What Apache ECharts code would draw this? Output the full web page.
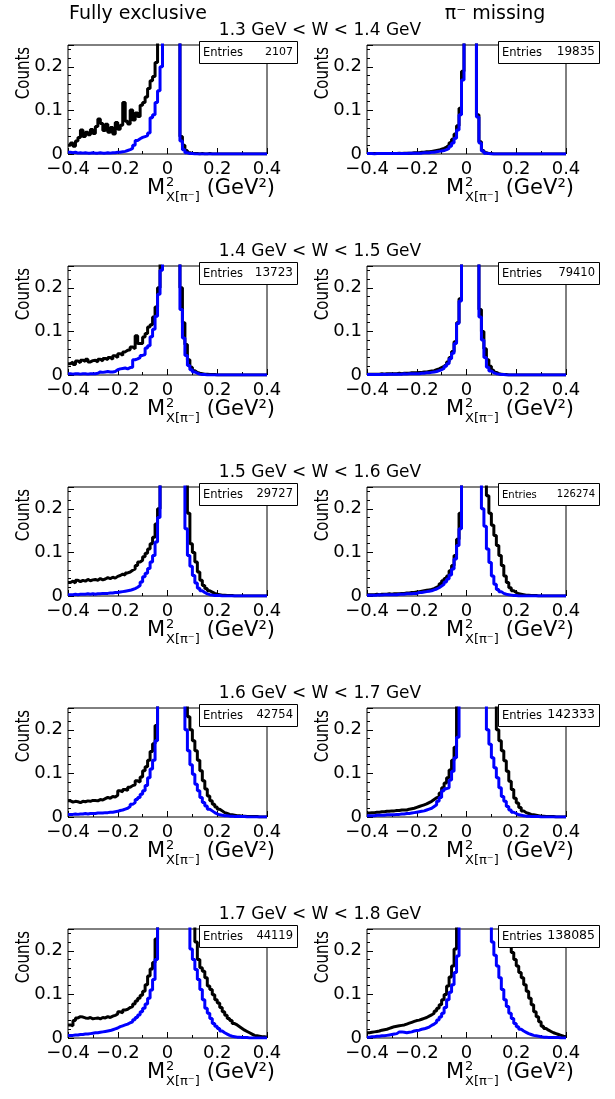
<!DOCTYPE html>
<html>
<head>
<meta charset="utf-8">
<script src="https://cdn.jsdelivr.net/npm/echarts/dist/echarts.min.js"></script>
<style>
html,body{margin:0;padding:0;background:#fff;}
#chart{width:615px;height:1099px;}
</style>
</head>
<body>
<div id="chart"></div>
<script>
// ---------------- data ----------------
// histogram binning: 80 bins of width 0.01 GeV^2 from -0.4 to 0.4
const X_MIN = -0.4, X_MAX = 0.4, BIN_W = 0.01;

const W_RANGES = ['1.3 GeV < W < 1.4 GeV','1.4 GeV < W < 1.5 GeV','1.5 GeV < W < 1.6 GeV','1.6 GeV < W < 1.7 GeV','1.7 GeV < W < 1.8 GeV'];
const COLUMN_TITLES = ['Fully exclusive', '\u03c0\u207b missing'];
const ENTRIES_FULLY_EXCLUSIVE = [2107, 13723, 29727, 42754, 44119];
const ENTRIES_PI_MISSING = [19835, 79410, 126274, 142333, 138085];

const fe13Black = [
0.020,0.025,0.018,0.030,0.038,0.055,0.040,0.050,0.044,0.056,
0.047,0.063,0.080,0.070,0.054,0.068,0.050,0.061,0.046,0.072,
0.057,0.066,0.118,0.075,0.069,0.101,0.078,0.094,0.086,0.112,
0.118,0.131,0.150,0.168,0.178,0.210,0.280,0.400,0.600,0.900,
1.100,1.200,1.100,0.900,0.500,0.040,0.020,0.008,0.003,0.001,
0.001,0.001,0,0.001,0,0,0.001,0,0,0,
0,0,0,0,0,0,0,0,0,0,
0,0,0,0,0,0,0,0,0,0];
const fe13Blue = [
0.004,0.003,0.004,0.002,0.003,0.002,0.003,0.002,0.002,0.003,
0.002,0.002,0.003,0.002,0.002,0.003,0.002,0.003,0.003,0.004,
0.004,0.005,0.006,0.008,0.010,0.013,0.020,0.031,0.035,0.038,
0.040,0.042,0.048,0.083,0.090,0.118,0.145,0.200,0.400,0.800,
1.100,1.200,1.100,0.900,0.500,0.030,0.010,0.003,0.001,0.001,
0,0,0,0,0,0,0,0,0,0,
0,0,0,0,0,0,0,0,0,0,
0,0,0,0,0,0,0,0,0,0];
const pm13Black = [
0.001,0.001,0.001,0.001,0.001,0.001,0.001,0.001,0.001,0.001,
0.001,0.001,0.002,0.001,0.002,0.002,0.002,0.002,0.003,0.003,
0.003,0.004,0.004,0.005,0.005,0.006,0.007,0.008,0.009,0.011,
0.013,0.016,0.020,0.026,0.034,0.046,0.065,0.105,0.190,0.600,
1.200,1.400,1.200,0.600,0.090,0.028,0.008,0.003,0.001,0.001,
0,0,0,0,0,0,0,0,0,0,
0,0,0,0,0,0,0,0,0,0,
0,0,0,0,0,0,0,0,0,0];
const pm13Blue = [
0.001,0.001,0,0.001,0.001,0.001,0.001,0.001,0.001,0.001,
0.001,0.001,0.001,0.001,0.001,0.001,0.002,0.002,0.002,0.002,
0.002,0.002,0.003,0.003,0.003,0.004,0.004,0.005,0.006,0.007,
0.008,0.010,0.013,0.018,0.025,0.036,0.055,0.090,0.170,0.600,
1.200,1.400,1.200,0.600,0.085,0.025,0.007,0.002,0.001,0,
0,0,0,0,0,0,0,0,0,0,
0,0,0,0,0,0,0,0,0,0,
0,0,0,0,0,0,0,0,0,0];

const fe14Black = [
0.026,0.030,0.024,0.032,0.028,0.034,0.031,0.036,0.030,0.033,
0.034,0.030,0.036,0.032,0.038,0.035,0.040,0.036,0.044,0.040,
0.049,0.045,0.053,0.057,0.058,0.064,0.060,0.090,0.072,0.072,
0.087,0.095,0.110,0.115,0.133,0.156,0.200,0.300,0.500,0.800,
1.000,1.100,1.000,0.800,0.500,0.200,0.120,0.070,0.035,0.018,
0.010,0.006,0.004,0.003,0.002,0.002,0.001,0.001,0.001,0,
0,0,0,0,0,0,0,0,0,0,
0,0,0,0,0,0,0,0,0,0];
const fe14Blue = [
0.003,0.002,0.003,0.003,0.002,0.003,0.003,0.002,0.003,0.003,
0.003,0.004,0.007,0.006,0.007,0.008,0.007,0.007,0.008,0.012,
0.014,0.015,0.016,0.014,0.017,0.018,0.035,0.037,0.040,0.045,
0.047,0.062,0.067,0.088,0.105,0.135,0.185,0.240,0.450,0.800,
1.000,1.100,1.000,0.800,0.500,0.150,0.085,0.045,0.022,0.012,
0.007,0.004,0.002,0.001,0.001,0,0,0,0,0,
0,0,0,0,0,0,0,0,0,0,
0,0,0,0,0,0,0,0,0,0];
const pm14Black = [
0.002,0.002,0.002,0.002,0.002,0.003,0.002,0.003,0.003,0.003,
0.003,0.003,0.004,0.003,0.004,0.004,0.004,0.005,0.005,0.005,
0.006,0.006,0.007,0.007,0.008,0.009,0.010,0.012,0.014,0.017,
0.020,0.024,0.030,0.040,0.054,0.076,0.120,0.175,0.350,0.700,
1.100,1.200,1.100,0.800,0.350,0.150,0.100,0.060,0.035,0.020,
0.011,0.006,0.003,0.002,0.001,0.001,0,0,0,0,
0,0,0,0,0,0,0,0,0,0,
0,0,0,0,0,0,0,0,0,0];
const pm14Blue = [
0.001,0.001,0.001,0.001,0.001,0.001,0.002,0.001,0.002,0.002,
0.002,0.002,0.002,0.002,0.003,0.002,0.003,0.003,0.003,0.003,
0.003,0.004,0.004,0.005,0.005,0.006,0.007,0.008,0.010,0.012,
0.015,0.020,0.026,0.037,0.050,0.072,0.118,0.170,0.350,0.700,
1.100,1.200,1.100,0.800,0.350,0.133,0.080,0.040,0.018,0.009,
0.005,0.003,0.002,0.001,0.001,0,0,0,0,0,
0,0,0,0,0,0,0,0,0,0,
0,0,0,0,0,0,0,0,0,0];

const fe15Black = [
0.031,0.034,0.030,0.036,0.033,0.036,0.034,0.038,0.035,0.037,
0.038,0.036,0.040,0.037,0.039,0.042,0.040,0.043,0.041,0.045,
0.047,0.050,0.048,0.053,0.055,0.059,0.062,0.070,0.078,0.082,
0.090,0.098,0.108,0.120,0.135,0.165,0.200,0.300,0.500,0.800,
1.000,1.100,1.100,1.000,0.800,0.600,0.400,0.280,0.190,0.120,
0.100,0.078,0.055,0.036,0.024,0.017,0.012,0.009,0.006,0.004,
0.003,0.002,0.002,0.001,0.001,0.001,0,0,0,0,
0,0,0,0,0,0,0,0,0,0];
const fe15Blue = [
0.003,0.003,0.004,0.003,0.004,0.004,0.004,0.005,0.004,0.005,
0.004,0.005,0.005,0.006,0.006,0.006,0.007,0.007,0.008,0.008,
0.009,0.010,0.011,0.012,0.013,0.015,0.017,0.020,0.024,0.032,
0.044,0.052,0.063,0.078,0.093,0.124,0.180,0.260,0.500,0.800,
1.000,1.100,1.100,1.000,0.800,0.500,0.280,0.154,0.093,0.068,
0.047,0.030,0.018,0.012,0.008,0.005,0.003,0.002,0.001,0.001,
0.001,0,0,0,0,0,0,0,0,0,
0,0,0,0,0,0,0,0,0,0];
const pm15Black = [
0.003,0.003,0.003,0.004,0.003,0.004,0.004,0.004,0.005,0.004,
0.005,0.005,0.005,0.006,0.006,0.007,0.007,0.008,0.008,0.009,
0.010,0.011,0.012,0.013,0.014,0.015,0.017,0.020,0.023,0.028,
0.035,0.040,0.046,0.058,0.070,0.093,0.130,0.190,0.300,0.600,
1.000,1.200,1.100,0.900,0.700,0.500,0.400,0.300,0.230,0.190,
0.162,0.139,0.116,0.093,0.070,0.046,0.031,0.019,0.012,0.008,
0.005,0.004,0.003,0.002,0.002,0.001,0.001,0.001,0,0,
0,0,0,0,0,0,0,0,0,0];
const pm15Blue = [
0.002,0.002,0.002,0.002,0.003,0.002,0.003,0.003,0.003,0.003,
0.003,0.003,0.004,0.004,0.004,0.005,0.005,0.005,0.006,0.006,
0.008,0.008,0.009,0.010,0.011,0.012,0.014,0.016,0.019,0.023,
0.027,0.032,0.039,0.048,0.062,0.085,0.116,0.154,0.260,0.600,
1.000,1.200,1.100,0.900,0.600,0.350,0.200,0.160,0.108,0.077,
0.046,0.027,0.015,0.010,0.006,0.004,0.003,0.002,0.001,0.001,
0,0,0,0,0,0,0,0,0,0,
0,0,0,0,0,0,0,0,0,0];

const fe16Black = [
0.037,0.034,0.036,0.035,0.033,0.036,0.035,0.037,0.036,0.038,
0.038,0.037,0.040,0.039,0.042,0.045,0.043,0.047,0.046,0.050,
0.060,0.058,0.063,0.061,0.068,0.072,0.074,0.083,0.080,0.092,
0.106,0.115,0.130,0.150,0.168,0.210,0.300,0.450,0.650,0.800,
0.900,1.000,1.000,0.900,0.800,0.600,0.450,0.300,0.230,0.200,
0.175,0.152,0.130,0.106,0.083,0.064,0.048,0.037,0.029,0.023,
0.018,0.014,0.010,0.008,0.006,0.005,0.004,0.003,0.003,0.002,
0.002,0.001,0.001,0.001,0.001,0.001,0,0,0,0];
const fe16Blue = [
0.006,0.006,0.007,0.006,0.007,0.007,0.008,0.007,0.008,0.008,
0.008,0.009,0.009,0.009,0.010,0.010,0.011,0.011,0.012,0.013,
0.015,0.016,0.018,0.020,0.024,0.029,0.033,0.040,0.045,0.052,
0.060,0.072,0.090,0.110,0.130,0.175,0.280,0.400,0.600,0.800,
0.900,1.000,1.000,0.900,0.700,0.450,0.270,0.200,0.152,0.120,
0.098,0.075,0.060,0.045,0.033,0.025,0.018,0.014,0.010,0.007,
0.005,0.004,0.003,0.003,0.002,0.002,0.001,0.001,0.001,0.001,
0.001,0,0,0,0,0,0,0,0,0];
const pm16Black = [
0.009,0.010,0.010,0.011,0.011,0.012,0.012,0.013,0.013,0.014,
0.014,0.015,0.015,0.016,0.016,0.016,0.018,0.019,0.020,0.022,
0.024,0.026,0.028,0.030,0.033,0.036,0.040,0.044,0.047,0.055,
0.067,0.078,0.090,0.108,0.130,0.160,0.260,0.400,0.600,0.800,
1.000,1.000,1.000,0.900,0.800,0.700,0.600,0.500,0.400,0.320,
0.300,0.260,0.200,0.175,0.152,0.129,0.105,0.082,0.063,0.043,
0.032,0.022,0.014,0.010,0.008,0.006,0.005,0.004,0.003,0.002,
0.002,0.001,0.001,0.001,0.001,0,0,0,0,0];
const pm16Blue = [
0.003,0.003,0.003,0.004,0.004,0.004,0.004,0.005,0.005,0.005,
0.005,0.006,0.006,0.007,0.007,0.008,0.008,0.009,0.010,0.011,
0.012,0.013,0.014,0.016,0.018,0.020,0.024,0.028,0.036,0.045,
0.060,0.065,0.067,0.085,0.105,0.136,0.183,0.300,0.500,0.800,
1.000,1.000,1.000,0.900,0.700,0.500,0.350,0.270,0.200,0.167,
0.136,0.113,0.090,0.067,0.047,0.036,0.024,0.016,0.011,0.008,
0.005,0.004,0.003,0.002,0.002,0.001,0.001,0.001,0.001,0,
0,0,0,0,0,0,0,0,0,0];

const fe17Black = [
0.030,0.028,0.040,0.046,0.049,0.048,0.046,0.045,0.047,0.044,
0.045,0.046,0.044,0.047,0.046,0.049,0.047,0.050,0.052,0.055,
0.060,0.058,0.064,0.066,0.070,0.072,0.078,0.085,0.091,0.098,
0.107,0.122,0.142,0.158,0.173,0.227,0.350,0.500,0.700,0.800,
0.900,1.000,1.000,0.900,0.800,0.700,0.550,0.450,0.380,0.320,
0.280,0.220,0.180,0.161,0.153,0.138,0.119,0.111,0.099,0.088,
0.080,0.070,0.060,0.052,0.045,0.040,0.033,0.030,0.026,0.022,
0.018,0.015,0.012,0.009,0.006,0.005,0.004,0.003,0.003,0.002];
const fe17Blue = [
0.006,0.006,0.007,0.007,0.008,0.008,0.009,0.009,0.010,0.011,
0.012,0.012,0.013,0.014,0.015,0.016,0.017,0.019,0.021,0.023,
0.026,0.028,0.030,0.032,0.035,0.037,0.042,0.047,0.053,0.060,
0.068,0.078,0.091,0.110,0.134,0.180,0.300,0.450,0.600,0.800,
0.900,1.000,1.000,0.900,0.800,0.600,0.450,0.350,0.270,0.204,
0.180,0.157,0.134,0.111,0.088,0.068,0.057,0.045,0.033,0.027,
0.022,0.016,0.012,0.009,0.006,0.004,0.003,0.002,0.002,0.001,
0.001,0.001,0,0,0,0,0,0,0,0];
const pm17Black = [
0.012,0.013,0.014,0.015,0.016,0.018,0.019,0.020,0.022,0.024,
0.026,0.027,0.028,0.029,0.030,0.032,0.034,0.036,0.038,0.040,
0.041,0.043,0.045,0.047,0.050,0.053,0.057,0.062,0.068,0.076,
0.088,0.100,0.119,0.140,0.165,0.204,0.300,0.450,0.600,0.800,
0.900,1.000,1.000,1.000,0.900,0.800,0.700,0.600,0.550,0.500,
0.450,0.420,0.390,0.360,0.330,0.300,0.260,0.212,0.196,0.180,
0.165,0.150,0.138,0.122,0.107,0.091,0.076,0.060,0.049,0.037,
0.027,0.022,0.018,0.015,0.012,0.010,0.008,0.006,0.004,0.003];
const pm17Blue = [
0.002,0.003,0.003,0.004,0.004,0.005,0.005,0.006,0.007,0.008,
0.009,0.010,0.014,0.014,0.013,0.012,0.013,0.014,0.016,0.017,
0.018,0.020,0.021,0.023,0.025,0.029,0.032,0.036,0.041,0.048,
0.057,0.070,0.088,0.105,0.122,0.150,0.188,0.300,0.500,0.700,
0.900,1.000,1.000,0.900,0.800,0.600,0.450,0.350,0.300,0.260,
0.220,0.190,0.165,0.138,0.111,0.088,0.072,0.057,0.045,0.033,
0.026,0.020,0.016,0.013,0.010,0.008,0.006,0.005,0.004,0.003,
0.002,0.002,0.001,0.001,0.001,0.001,0.001,0,0,0];

const FULLY_EXCLUSIVE = [[fe13Black,fe13Blue],[fe14Black,fe14Blue],[fe15Black,fe15Blue],[fe16Black,fe16Blue],[fe17Black,fe17Blue]];
const PI_MISSING = [[pm13Black,pm13Blue],[pm14Black,pm14Blue],[pm15Black,pm15Blue],[pm16Black,pm16Blue],[pm17Black,pm17Blue]];

// ---------------- layout / style ----------------
const FONT = 'DejaVu Sans';
const GRID_LEFT = [68, 367];
const GRID_W = 199, GRID_H = 109, GRID_TOP0 = 45, ROW_STEP = 221;
const BOX_LEFT = [199, 498], BOX_W = [98, 101];
const ENTRY_NUM_FONT = [[11,12,11.5,11.5,11.5],[12,11.5,10,12.5,12.5]];
const ENTRY_LABEL_FONT = [[11.5,11.5,11.5,11.5,11.5],[11.5,11.5,10,11.5,11.5]];

function toHist(values){
  const pts = values.map((v,i)=>[X_MIN + i*BIN_W, v]);
  pts.push([X_MAX, values[values.length-1]]);
  return pts;
}

const grids=[], xAxes=[], yAxes=[], series=[], graphics=[];

COLUMN_TITLES.forEach((t,c)=>{
  graphics.push({type:'text', x: c===0?138:495, y:14, z:50, silent:true,
    style:{text:t, fontFamily:FONT, fontSize:19, fill:'#000', textAlign:'center', textVerticalAlign:'middle'}});
});

for(let r=0;r<5;r++){
  const top = GRID_TOP0 + r*ROW_STEP;
  const bottom = top + GRID_H;
  graphics.push({type:'text', x:320, y:top-14, z:50, silent:true,
    style:{text:W_RANGES[r], fontFamily:FONT, fontSize:17, fill:'#000', textAlign:'center', textVerticalAlign:'middle'}});
  for(let c=0;c<2;c++){
    const k = grids.length;
    const left = GRID_LEFT[c];
    grids.push({left:left, top:top, width:GRID_W, height:GRID_H, show:true, borderColor:'#000', borderWidth:1, backgroundColor:'rgba(0,0,0,0)'});
    xAxes.push({type:'value', gridIndex:k, min:X_MIN, max:X_MAX, interval:0.2, position:'bottom',
      axisLine:{show:false, onZero:false}, splitLine:{show:false},
      axisTick:{show:true, inside:true, length:6, lineStyle:{color:'#000', width:1}},
      minorTick:{show:true, splitNumber:2, length:3, lineStyle:{color:'#000', width:1}},
      axisLabel:{color:'#000', fontFamily:FONT, fontSize:18, margin:6,
        formatter:v=>{const q=Math.round(v*100)/100; return (q===0?'0':String(q)).replace('-','\u2212');}}});
    yAxes.push({type:'value', gridIndex:k, min:0, max:0.25, interval:0.1, position:'left',
      axisLine:{show:false, onZero:false}, splitLine:{show:false},
      axisTick:{show:true, inside:true, length:6, lineStyle:{color:'#000', width:1}},
      minorTick:{show:true, splitNumber:5, length:3, lineStyle:{color:'#000', width:1}},
      axisLabel:{color:'#000', fontFamily:FONT, fontSize:18, margin:5, showMaxLabel:false,
        formatter:v=>String(Math.round(v*100)/100)}});
    const pair = (c===0?FULLY_EXCLUSIVE:PI_MISSING)[r];
    series.push({type:'line', xAxisIndex:k, yAxisIndex:k, data:toHist(pair[0]), step:'end', symbol:'none', clip:true, z:2,
      lineStyle:{color:'#000000', width:3}, itemStyle:{color:'#000000'}, animation:false, silent:true});
    series.push({type:'line', xAxisIndex:k, yAxisIndex:k, data:toHist(pair[1]), step:'end', symbol:'none', clip:true, z:3,
      lineStyle:{color:'#0000ff', width:3}, itemStyle:{color:'#0000ff'}, animation:false, silent:true});

    // stats box
    const bx = BOX_LEFT[c], bw = BOX_W[c], by = top-4, bh = 22;
    graphics.push({type:'rect', z:60, silent:true, shape:{x:bx+0.5, y:by+0.5, width:bw, height:bh},
      style:{fill:'#fff', stroke:'#000', lineWidth:1}});
    graphics.push({type:'text', z:61, silent:true, x:bx+4, y:by+bh/2+1,
      style:{text:'Entries', fontFamily:FONT, fontSize:ENTRY_LABEL_FONT[c][r], fill:'#000', textAlign:'left', textVerticalAlign:'middle'}});
    graphics.push({type:'text', z:61, silent:true, x:bx+bw-4, y:by+bh/2,
      style:{text:String((c===0?ENTRIES_FULLY_EXCLUSIVE:ENTRIES_PI_MISSING)[r]), fontFamily:FONT, fontSize:ENTRY_NUM_FONT[c][r], fill:'#000', textAlign:'right', textVerticalAlign:'middle'}});

    // y title
    graphics.push({type:'text', z:50, silent:true, x:left-43.5, y:top+28, rotation:Math.PI/2, scaleY:1.25,
      style:{text:'Counts', fontFamily:FONT, fontSize:15, fill:'#000', textAlign:'center', textVerticalAlign:'middle'}});

    // x title: M^2_{X[pi-]} (GeV^2)
    const xR = left + GRID_W + 8;
    graphics.push({type:'text', z:50, silent:true, x:xR-128, y:bottom+35,
      style:{text:'M', fontFamily:FONT, fontSize:21, fill:'#000', textAlign:'left', textVerticalAlign:'middle'}});
    graphics.push({type:'text', z:50, silent:true, x:xR-109, y:bottom+29,
      style:{text:'2', fontFamily:FONT, fontSize:13, fill:'#000', textAlign:'left', textVerticalAlign:'middle'}});
    graphics.push({type:'text', z:50, silent:true, x:xR-109, y:bottom+44,
      style:{text:'X[\u03c0\u207b]', fontFamily:FONT, fontSize:13, fill:'#000', textAlign:'left', textVerticalAlign:'middle'}});
    graphics.push({type:'text', z:50, silent:true, x:xR, y:bottom+35,
      style:{text:'(GeV\u00b2)', fontFamily:FONT, fontSize:21, fill:'#000', textAlign:'right', textVerticalAlign:'middle'}});
  }
}

const chart = echarts.init(document.getElementById('chart'), null, {renderer:'canvas'});
chart.setOption({
  backgroundColor:'#ffffff',
  animation:false,
  grid:grids, xAxis:xAxes, yAxis:yAxes, series:series, graphic:graphics
});
</script>
</body>
</html>
